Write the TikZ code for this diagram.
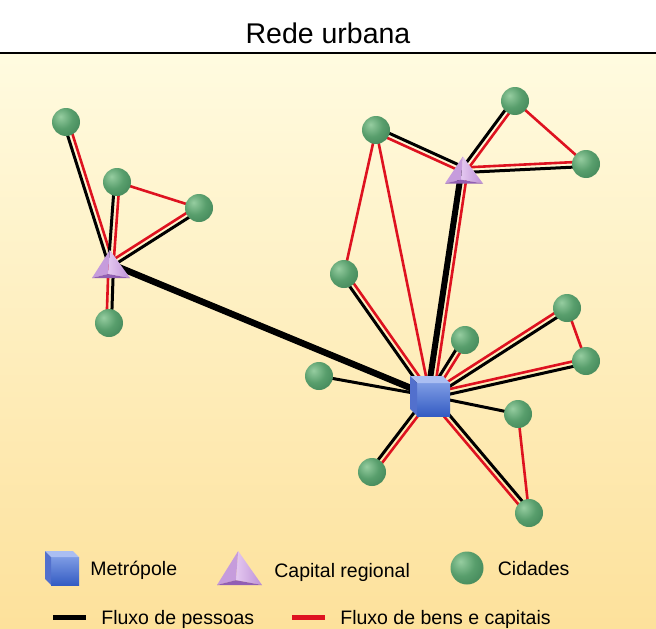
\documentclass[tikz,border=0pt]{standalone}
\usepackage{fontspec}
\setmainfont{Liberation Sans}
\usetikzlibrary{positioning, calc, shapes.geometric}

\definecolor{fundotopo}{RGB}{255,251,224}
\definecolor{fundobase}{RGB}{253,225,155}
\definecolor{vermelho}{RGB}{222,18,32}
\definecolor{verdeclaro}{RGB}{150,205,160}
\definecolor{verdemeio}{RGB}{88,158,108}
\definecolor{verdeescuro}{RGB}{52,118,76}
\definecolor{azulfrente}{RGB}{125,155,228}
\definecolor{azulbase}{RGB}{52,92,195}
\definecolor{azultopo}{RGB}{170,190,242}
\definecolor{azullado}{RGB}{82,112,205}
\definecolor{lilasclaro}{RGB}{228,200,240}
\definecolor{lilasmeio}{RGB}{190,145,215}
\definecolor{lilasescuro}{RGB}{145,95,180}

\pgfdeclareradialshading{bola}{\pgfpoint{-10bp}{10bp}}{color(0bp)=(verdeclaro); color(20bp)=(verdemeio); color(50bp)=(verdeescuro); color(100bp)=(verdeescuro)}

\pgfdeclarelayer{fundo}
\pgfdeclarelayer{fluxos}
\pgfsetlayers{fundo,fluxos,main}

\tikzstyle{titulo} = [inner sep=0pt, text height=20pt, text depth=0pt, font=\fontsize{28.5}{34}\selectfont]
\tikzstyle{legenda} = [inner sep=0pt, text height=14pt, text depth=0pt, anchor=west, font=\fontsize{19.5}{23}\selectfont]
\tikzstyle{cidade} = [circle, minimum size=28pt, inner sep=0pt, shade, shading=bola]
\tikzstyle{pessoas} = [line width=3pt, black]
\tikzstyle{bens} = [line width=2.6pt, vermelho]
\tikzstyle{barra} = [rectangle, minimum width=33pt, minimum height=5pt, inner sep=0pt]
\tikzset{
  metropole/.style={rectangle, minimum size=#1, inner sep=0pt, path picture={
    \begin{scope}[x=#1, y=#1]
      \shade[top color=azulfrente, bottom color=azulbase] (-0.32,-0.5) rectangle (0.5,0.32);
      \fill[azultopo] (-0.5,0.5) -- (0.32,0.5) -- (0.5,0.32) -- (-0.32,0.32) -- cycle;
      \fill[azullado] (-0.5,0.5) -- (-0.32,0.32) -- (-0.32,-0.5) -- (-0.5,-0.32) -- cycle;
    \end{scope}}},
  metropole/.default=40pt,
  capital/.style 2 args={rectangle, minimum width=#1, minimum height=#2, inner sep=0pt, path picture={
    \begin{scope}[x=#1, y=#2]
      \shade[left color=lilasclaro, right color=lilasmeio] (-0.03,0.5) -- (-0.08,-0.36) -- (0.5,-0.5) -- cycle;
      \fill[lilasmeio!80!lilasclaro] (-0.03,0.5) -- (-0.5,-0.5) -- (-0.08,-0.36) -- cycle;
      \fill[lilasescuro] (-0.5,-0.5) -- (0.5,-0.5) -- (-0.08,-0.36) -- cycle;
    \end{scope}}}
}

% par de fluxos: pessoas a esquerda de #1 -> #2, bens a direita
\newcommand{\fluxoduplo}[2]{%
  \draw[pessoas] ($(#1)!2.5pt!90:(#2)$) -- ($(#2)!2.5pt!-90:(#1)$);
  \draw[bens] ($(#1)!2.5pt!-90:(#2)$) -- ($(#2)!2.5pt!90:(#1)$);}
\newcommand{\fluxoforte}[2]{%
  \draw[pessoas, line width=6pt] ($(#1)!2.5pt!90:(#2)$) -- ($(#2)!2.5pt!-90:(#1)$);
  \draw[bens] ($(#1)!3.6pt!-90:(#2)$) -- ($(#2)!3.6pt!90:(#1)$);}

\begin{document}
\begin{tikzpicture}[x=1pt, y=-1pt]
    \useasboundingbox (0,0) rectangle (656,629);

    % Fundo e titulo
    \begin{pgfonlayer}{fundo}
        \fill[white] (0,0) rectangle (656,53);
        \shade[top color=fundotopo, bottom color=fundobase] (0,53) rectangle (656,629);
        \draw[line width=2pt] (0,53) -- (656,53);
    \end{pgfonlayer}
    \node (titulo) [titulo] at (328,33) {Rede urbana};

    % Capital regional oeste
    \node (capO) [capital={38pt}{28pt}] at (111,264) {};
    \node (c1) [cidade] at (66,122) {};
    \node (c2) [cidade] at (117,182) {};
    \node (c3) [cidade] at (199,208) {};
    \node (c4) [cidade] at (109,323) {};

    % Capital regional leste
    \node (capL) [capital={38pt}{27pt}] at (464,170) {};
    \node (c5) [cidade] at (376,130) {};
    \node (c6) [cidade] at (515,101) {};
    \node (c7) [cidade] at (586,164) {};
    \node (c8) [cidade] at (344,274) {};

    % Metropole
    \node (metro) [metropole] at (430,396) {};
    \node (c9) [cidade] at (465,340) {};
    \node (c10) [cidade] at (567,308) {};
    \node (c11) [cidade] at (586,361) {};
    \node (c12) [cidade] at (319,376) {};
    \node (c13) [cidade] at (518,414) {};
    \node (c14) [cidade] at (372,472) {};
    \node (c15) [cidade] at (529,513) {};

    % --- Fluxos ---
    \begin{pgfonlayer}{fluxos}
        \fluxoduplo{capO}{c1}
        \fluxoduplo{capO}{c2}
        \fluxoduplo{c3}{capO}
        \fluxoduplo{capO}{c4}
        \draw[bens] (c2.center) -- (c3.center);
        \draw[pessoas, line width=6.5pt] (capO.center) -- (metro.center);

        \fluxoduplo{c5}{capL}
        \fluxoduplo{capL}{c6}
        \fluxoduplo{c7}{capL}
        \draw[bens] (c6.center) -- (c7.center);
        \fluxoforte{metro}{capL}
        \draw[bens] (c5.center) -- (c8.center);
        \draw[bens] (c5.center) -- (metro.center);
        \fluxoduplo{metro}{c8}

        \fluxoduplo{metro}{c9}
        \fluxoduplo{c10}{metro}
        \fluxoduplo{c11}{metro}
        \draw[bens] (c10.center) -- (c11.center);
        \draw[pessoas] (metro.center) -- (c12.center);
        \draw[pessoas] (metro.center) -- (c13.center);
        \draw[bens] (c13.center) -- (c15.center);
        \fluxoduplo{metro}{c15}
        \fluxoduplo{c14}{metro}
    \end{pgfonlayer}

    % --- Legenda ---
    \node (legmetro) [metropole=34pt] at (62,568) {};
    \node (txtmetro) [legenda, right=11pt of legmetro] {Metrópole};
    \node (legcap) [capital={45pt}{34pt}] at (239.5,568) {};
    \node (txtcap) [legenda, right=12pt of legcap, yshift=-2pt] {Capital regional};
    \node (legcid) [cidade, minimum size=33pt] at (467,568) {};
    \node (txtcid) [legenda, right=14pt of legcid] {Cidades};

    \node (legpes) [barra, fill=black] at (69.5,617) {};
    \node (txtpes) [legenda, right=15pt of legpes] {Fluxo de pessoas};
    \node (legbens) [barra, fill=vermelho] at (308.5,617) {};
    \node (txtbens) [legenda, right=15pt of legbens] {Fluxo de bens e capitais};

\end{tikzpicture}
\end{document}
